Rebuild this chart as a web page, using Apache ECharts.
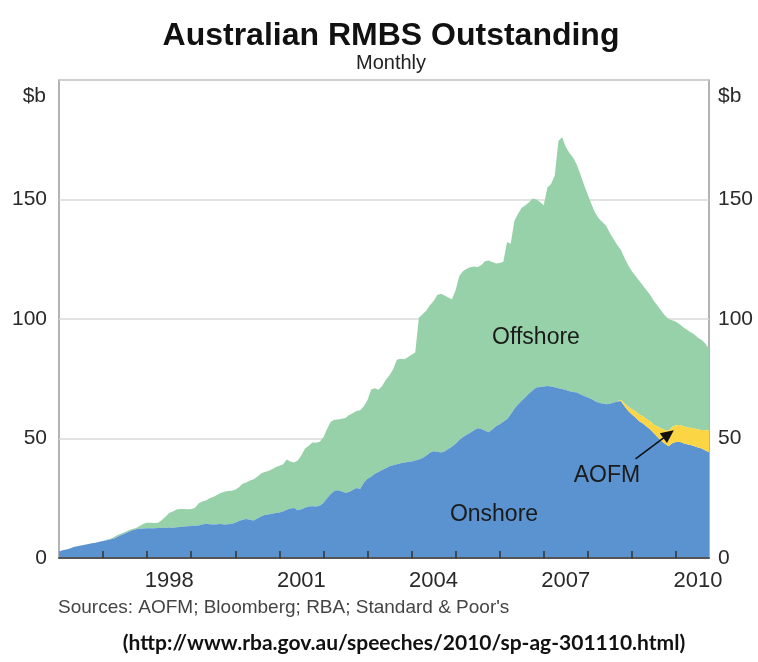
<!DOCTYPE html>
<html>
<head>
<meta charset="utf-8">
<script src="https://cdn.jsdelivr.net/npm/echarts@6/dist/echarts.min.js"></script>
<style>
  html, body { margin: 0; padding: 0; background: #fff; }
  #chart { width: 758px; height: 662px; }
</style>
</head>
<body>
<div id="chart"></div>
<script>
// ---- Data (A$ billion, monthly, Jan 1996 - Oct 2010) ----
const startYear = 1996;
const endYear = 2010;
const endMonth = 10;

const onshore = [
  2.7,3.2,3.6,4.0,4.6,4.9,5.2,5.5,5.9,6.2,6.4,6.8,             // 1996
  7.1,7.4,7.7,8.2,8.9,9.6,10.3,11.0,11.6,12.0,12.2,12.3,       // 1997
  12.4,12.5,12.4,12.6,12.7,12.6,12.8,12.7,12.9,13.0,13.2,13.3, // 1998
  13.4,13.5,13.6,14.0,14.3,14.1,14.0,14.1,14.2,14.0,14.1,14.3, // 1999
  14.8,15.5,16.0,16.3,16.0,15.7,16.5,17.4,18.0,18.2,18.5,18.8, // 2000
  19.0,19.5,20.2,20.7,20.9,20.0,20.4,21.0,21.6,21.7,21.6,21.9, // 2001
  23.0,25.0,26.8,28.0,28.3,27.8,27.3,27.6,28.5,29.3,28.9,31.5, // 2002
  33.2,34.0,35.3,36.0,36.8,37.6,38.4,38.8,39.2,39.6,40.0,40.2, // 2003
  40.4,40.8,41.2,41.8,42.8,44.0,44.7,44.5,44.1,44.6,45.6,46.6, // 2004
  47.8,49.4,50.5,51.6,52.4,53.4,54.3,54.0,53.2,52.6,53.8,55.1, // 2005
  56.0,57.0,58.1,60.0,62.4,64.2,65.8,67.3,68.8,70.2,71.3,71.6, // 2006
  71.8,72.0,71.8,71.4,71.0,70.7,70.3,69.8,69.5,69.2,68.5,67.8, // 2007
  67.2,66.5,65.6,65.0,64.6,64.3,64.5,65.0,65.5,65.7,63.5,61.5, // 2008
  60.0,58.8,57.2,56.3,55.0,53.8,52.2,50.5,49.0,47.8,46.8,48.0, // 2009
  48.5,48.6,48.0,47.6,47.3,46.8,46.2,45.8,45.0,44.2            // 2010
];

const aofm = [
  0,0,0,0,0,0,0,0,0,0,0,0,   // 1996
  0,0,0,0,0,0,0,0,0,0,0,0,   // 1997
  0,0,0,0,0,0,0,0,0,0,0,0,   // 1998
  0,0,0,0,0,0,0,0,0,0,0,0,   // 1999
  0,0,0,0,0,0,0,0,0,0,0,0,   // 2000
  0,0,0,0,0,0,0,0,0,0,0,0,   // 2001
  0,0,0,0,0,0,0,0,0,0,0,0,   // 2002
  0,0,0,0,0,0,0,0,0,0,0,0,   // 2003
  0,0,0,0,0,0,0,0,0,0,0,0,   // 2004
  0,0,0,0,0,0,0,0,0,0,0,0,   // 2005
  0,0,0,0,0,0,0,0,0,0,0,0,   // 2006
  0,0,0,0,0,0,0,0,0,0,0,0,   // 2007
  0,0,0,0,0,0,0,0,0,0.5,1.2,1.8,                 // 2008
  2.2,2.6,2.8,3.0,3.2,3.4,3.6,4.5,5.2,5.8,6.4,6.9, // 2009
  7.0,7.0,7.1,7.0,7.2,7.4,7.6,7.8,8.4,9.2          // 2010
];

const offshore = [
  0,0,0,0,0,0,0,0,0,0,0,0,                                     // 1996
  0,0.2,0.4,0.6,0.7,0.7,0.6,0.6,0.5,0.6,1.2,2.0,               // 1997
  2.3,2.2,2.2,2.2,3.2,4.7,6.0,6.8,7.4,7.5,7.3,7.1,             // 1998
  7.1,7.4,9.2,9.6,9.8,10.9,11.5,12.3,13.0,13.7,13.9,13.8,      // 1999
  13.8,14.1,15.1,15.3,16.4,17.2,17.5,18.0,18.0,18.2,18.6,19.2, // 2000
  19.6,19.6,21.0,19.7,19.1,20.8,22.6,24.8,25.4,26.6,26.6,26.7, // 2001
  27.5,29.0,30.2,29.8,29.7,30.5,31.3,32.2,32.1,32.2,32.9,32.0, // 2002
  32.8,36.5,35.7,34.4,35.2,37.0,38.1,40.2,43.8,43.8,43.2,43.8, // 2003
  44.6,45.2,59.3,60.2,60.7,61.8,62.8,65.5,66.5,65.2,63.4,61.7, // 2004
  64.2,68.6,69.5,69.4,69.3,68.6,67.5,68.5,71.0,71.9,70.0,68.1, // 2005
  67.4,67.0,74.1,71.5,78.6,79.8,80.7,80.3,80.0,80.2,78.7,77.4, // 2006
  75.8,83.0,84.7,88.6,103.5,105.3,101.7,99.7,98.0,95.3,92.0,88.2, // 2007
  84.8,81.5,78.9,77.0,75.9,74.7,71.5,68.5,65.5,62.8,60.8,59.2, // 2008
  57.8,56.6,56.0,54.7,53.8,52.8,51.7,50.5,49.3,47.9,46.8,44.6, // 2009
  43.3,42.2,41.4,40.9,40.0,39.3,38.4,37.6,36.4,34.1           // 2010
];

const labelYears = [1998, 2001, 2004, 2007, 2010];
const yTicks = [0, 50, 100, 150];

// month categories 'YYYY-MM'
const months = [];
for (let y = startYear; y <= endYear; y++) {
  const last = (y === endYear) ? endMonth : 12;
  for (let m = 1; m <= last; m++) months.push(y + '-' + (m < 10 ? '0' + m : m));
}

const BLUE = '#5a93d0';
const GREEN = '#96d1a9';
const YELLOW = '#fcd544';
const FONT = 'Liberation Sans, Arial, sans-serif';

const chart = echarts.init(document.getElementById('chart'), null, { renderer: 'canvas' });

function areaSeries(name, data, color, z) {
  return {
    name: name, type: 'line', stack: 'total', data: data,
    symbol: 'none', showSymbol: false, smooth: false,
    lineStyle: { width: 0, opacity: 0 },
    areaStyle: { color: color, opacity: 1 },
    itemStyle: { color: color },
    emphasis: { disabled: true },
    z: z
  };
}

const yAxisCommon = {
  type: 'value', min: 0, max: 200, interval: 50,
  axisLine: { show: false }, axisTick: { show: false },
  axisLabel: {
    color: '#2a2a2a', fontFamily: FONT, fontSize: 21,
    formatter: v => (yTicks.indexOf(v) >= 0 ? String(v) : '')
  }
};

const series = [
  areaSeries('Onshore', onshore, BLUE, 2),
  areaSeries('AOFM', aofm, YELLOW, 3),
  areaSeries('Offshore', offshore, GREEN, 1)
];
series[0].markLine = {
  silent: true,
  symbol: ['none', 'triangle'],
  symbolSize: [12, 13],
  label: { show: false },
  lineStyle: { color: '#111', width: 1.6, type: 'solid' },
  data: [[ { coord: ['2009-02', 41.5] }, { coord: ['2009-11', 51.8] } ]],
  z: 10
};

chart.setOption({
  animation: false,
  backgroundColor: '#fff',
  grid: {
    left: 59, right: 49, top: 80, bottom: 104,
    show: true, borderColor: '#9a9a9a', borderWidth: 1.5, backgroundColor: 'transparent'
  },
  xAxis: {
    type: 'category', data: months, boundaryGap: false, z: 10,
    axisLine: { show: true, lineStyle: { color: '#555', width: 2 } },
    axisTick: {
      show: true, inside: true, length: 7,
      lineStyle: { color: '#333', width: 1.5 },
      interval: (i, v) => i > 0 && v.slice(5) === '01'
    },
    axisLabel: {
      show: true, color: '#2a2a2a', fontFamily: FONT, fontSize: 22, margin: 12,
      interval: (i, v) => v.slice(5) === '07' && labelYears.indexOf(+v.slice(0, 4)) >= 0,
      formatter: v => v.slice(0, 4)
    },
    splitLine: { show: false }
  },
  yAxis: [
    Object.assign({}, yAxisCommon, {
      position: 'left',
      splitLine: { show: true, lineStyle: { color: '#d9d9d9', width: 1.5 } },
      axisLabel: Object.assign({}, yAxisCommon.axisLabel, { margin: 12 })
    }),
    Object.assign({}, yAxisCommon, {
      position: 'right',
      splitLine: { show: false },
      axisLabel: Object.assign({}, yAxisCommon.axisLabel, { margin: 9 })
    })
  ],
  series: series,
  graphic: [
    { type: 'text', x: 391, y: 36, style: { text: 'Australian RMBS Outstanding', font: 'bold 32px ' + FONT, fill: '#111', align: 'center', verticalAlign: 'middle', textAlign: 'center', textVerticalAlign: 'middle' } },
    { type: 'text', x: 391, y: 63, style: { text: 'Monthly', font: '20px ' + FONT, fill: '#222', align: 'center', verticalAlign: 'middle', textAlign: 'center', textVerticalAlign: 'middle' } },
    { type: 'text', x: 46, y: 96, style: { text: '$b', font: '21px ' + FONT, fill: '#2a2a2a', align: 'right', verticalAlign: 'middle', textAlign: 'right', textVerticalAlign: 'middle' } },
    { type: 'text', x: 718, y: 96, style: { text: '$b', font: '21px ' + FONT, fill: '#2a2a2a', align: 'left', verticalAlign: 'middle', textAlign: 'left', textVerticalAlign: 'middle' } },
    { type: 'text', x: 536, y: 338, z: 20, style: { text: 'Offshore', font: '23px ' + FONT, fill: '#1a1a1a', align: 'center', verticalAlign: 'middle', textAlign: 'center', textVerticalAlign: 'middle' } },
    { type: 'text', x: 494, y: 515, z: 20, style: { text: 'Onshore', font: '23px ' + FONT, fill: '#1a1a1a', align: 'center', verticalAlign: 'middle', textAlign: 'center', textVerticalAlign: 'middle' } },
    { type: 'text', x: 607, y: 476, z: 20, style: { text: 'AOFM', font: '23px ' + FONT, fill: '#1a1a1a', align: 'center', verticalAlign: 'middle', textAlign: 'center', textVerticalAlign: 'middle' } },
    { type: 'text', x: 58, y: 608, style: { text: "Sources: AOFM; Bloomberg; RBA; Standard & Poor's", font: '19px ' + FONT, fill: '#444', align: 'left', verticalAlign: 'middle', textAlign: 'left', textVerticalAlign: 'middle' } },
    { type: 'text', x: 404, y: 643, style: { text: '(http://www.rba.gov.au/speeches/2010/sp-ag-301110.html)', font: 'bold 21px Lato, "Open Sans", sans-serif', fill: '#111', align: 'center', verticalAlign: 'middle', textAlign: 'center', textVerticalAlign: 'middle' } }
  ]
});
</script>
</body>
</html>
